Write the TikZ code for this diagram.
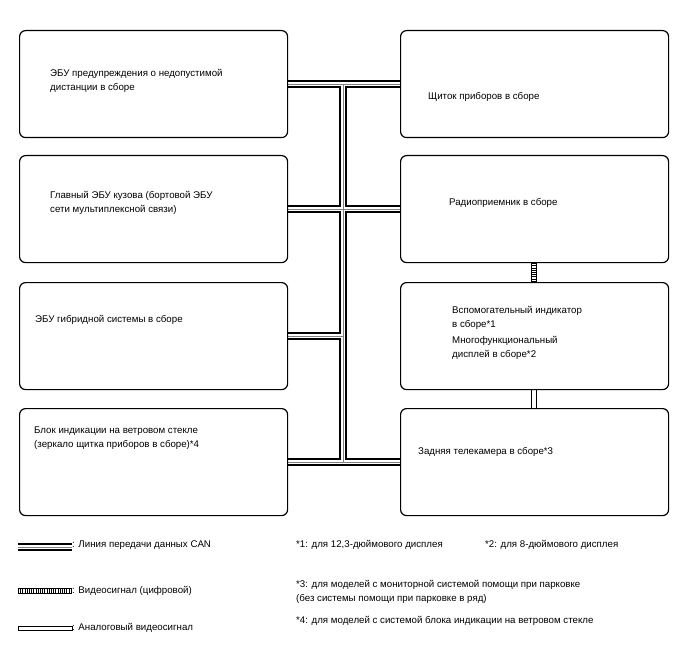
\documentclass[tikz,border=0pt]{standalone}
\usepackage{fontspec}
\setmainfont{Liberation Sans}
\usetikzlibrary{backgrounds}
\begin{document}
\begin{tikzpicture}[x=1pt,y=-1pt,
    unit/.style={draw, line width=1.2pt, rounded corners=6pt, minimum width=268pt, minimum height=107pt, anchor=north west, inner sep=0pt},
    lbl/.style={anchor=west, align=left, inner sep=0pt, font=\fontsize{9.7}{13.5}\selectfont},
    canbus/.style={draw, line width=8.6pt, postaction={draw=white, line width=3.8pt}, postaction={draw=gray, line width=1pt}},
    vidsig/.style={draw, line width=6pt, postaction={draw=white, line width=4pt}, postaction={draw=black, line width=4pt, dash pattern=on 0.8pt off 1.4pt}},
    anasig/.style={draw, line width=6pt, postaction={draw=white, line width=4pt}}]
    \useasboundingbox (0,0) rectangle (688,658);

    \node[unit] (l1) at (19,30) {};
    \node[unit] (l2) at (19,155) {};
    \node[unit] (l3) at (19,282) {};
    \node[unit] (l4) at (19,408) {};
    \node[unit] (r1) at (400,30) {};
    \node[unit] (r2) at (400,155) {};
    \node[unit] (r3) at (400,282) {};
    \node[unit] (r4) at (400,408) {};

    \node[lbl] (t1) at (50,81) {ЭБУ предупреждения о недопустимой\\дистанции в сборе};
    \node[lbl] (t2) at (50,203) {Главный ЭБУ кузова (бортовой ЭБУ\\сети мультиплексной связи)};
    \node[lbl] (t3) at (35,320) {ЭБУ гибридной системы в сборе};
    \node[lbl] (t4) at (34,438) {Блок индикации на ветровом стекле\\(зеркало щитка приборов в сборе)*4};
    \node[lbl] (t5) at (428,97) {Щиток приборов в сборе};
    \node[lbl] (t6) at (449,203) {Радиоприемник в сборе};
    \node[lbl] (t7) at (452,333) {Вспомогательный индикатор\\в сборе*1\\[3pt]Многофункциональный\\дисплей в сборе*2};
    \node[lbl] (t8) at (418,452) {Задняя телекамера в сборе*3};

    \coordinate (bx) at (343,0);
    \coordinate (vx) at (534,0);
    \begin{scope}[on background layer]
        \draw[canbus] (l1.east) -- (r1.west) (l1.east -| bx) -- (l4.east -| bx)
            (l2.east) -- (r2.west) (l3.east) -- (l3.east -| bx) (l4.east) -- (r4.west);
        \draw[vidsig] (r2.south -| vx) -- (r3.north -| vx);
        \draw[anasig] (r3.south -| vx) -- (r4.north -| vx);
    \end{scope}

    \coordinate (ca) at (18,547);
    \coordinate (cb) at (72,547);
    \coordinate (va) at (18,591);
    \coordinate (vb) at (72,591);
    \draw[canbus] (ca) -- (cb);
    \draw[vidsig] (va) -- (vb);
    \draw[line width=0.7pt] (18,626) rectangle (72,630);
    \node[lbl] (k1) at (72,545) {: Линия передачи данных CAN};
    \node[lbl] (k2) at (72,591) {: Видеосигнал (цифровой)};
    \node[lbl] (k3) at (72,628) {: Аналоговый видеосигнал};

    \node[lbl] (n1) at (296,545) {*1: для 12,3-дюймового дисплея};
    \node[lbl] (n2) at (485,545) {*2: для 8-дюймового дисплея};
    \node[lbl] (n3) at (296,592) {*3: для моделей с мониторной системой помощи при парковке\\(без системы помощи при парковке в ряд)};
    \node[lbl] (n4) at (296,621) {*4: для моделей с системой блока индикации на ветровом стекле};
\end{tikzpicture}
\end{document}
